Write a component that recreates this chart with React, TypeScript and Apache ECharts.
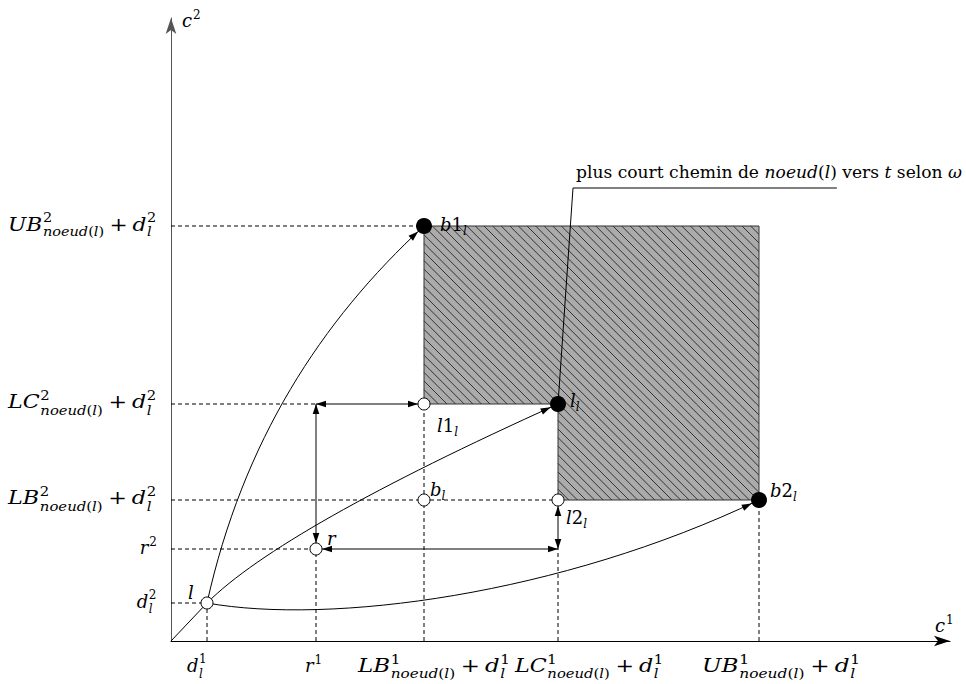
import React, { useEffect, useRef } from 'react';
import * as echarts from 'echarts';

// ---------------- data (diagram units on c1 / c2) ----------------
const c1Max = 779;
const c2Max = 623;
// d_l^1, r^1, LB^1+d^1, LC^1+d^1, UB^1+d^1
const c1Keys = [36, 145, 253, 387, 588];
// d_l^2, r^2, LB^2+d^2, LC^2+d^2, UB^2+d^2
const c2Keys = [38, 92, 141, 237, 415];
const xTickLabels = ['d^1_l', 'r^1', 'LB^1_{noeud(l)} + d^1_l', 'LC^1_{noeud(l)} + d^1_l', 'UB^1_{noeud(l)} + d^1_l'];
const yTickLabels = ['d^2_l', 'r^2', 'LB^2_{noeud(l)} + d^2_l', 'LC^2_{noeud(l)} + d^2_l', 'UB^2_{noeud(l)} + d^2_l'];
const axisNames = ['c^1', 'c^2'];

const pointNames = ['l', 'r', 'b_l', 'l1_l', 'l2_l', 'b1_l', 'l_l', 'b2_l'];
const pointC1 = [36, 145, 253, 253, 387, 253, 387, 588];
const pointC2 = [38, 92, 141, 237, 141, 415, 237, 141];
const pointFilled = [false, false, false, false, false, true, true, true];

// curves leaving l : start, control 1, control 2, end
const curveToB1 = [[36, 38], [72, 200], [150, 320], [253, 415]];
const curveToLl = [[36, 38], [86, 88], [203, 154], [387, 237]];
const curveToB2 = [[36, 38], [159, 16], [389, 46], [588, 141]];

// annotation
const annotationParts: [string, boolean][] = [
  ['plus court chemin de ', false], ['noeud', true], ['(', false], ['l', true], [')', false],
  [' vers ', false], ['t', true], [' selon ', false], ['ω', true],
];
const annotationUnderlinedParts = 5;
const leader = [[402, 453], [387, 237]];

// ---------------- layout (pixels) ----------------
const xLabelLeft = [-20, -11, -66, -43, -57];
const xLabelFit: (number | undefined)[] = [undefined, undefined, 154, 150, 160];
const pointLabelOffset = [[-19, -4], [11, -4], [6, -4], [13, 28], [8, 24], [16, 5], [12, 3], [11, -3]];

const FONT = 'DejaVu Serif';
const MAIN = 18;
const SCRIPT = 12;

let ctx: CanvasRenderingContext2D | null = null;
function measure(text: string, size: number, italic: boolean): number {
  if (!ctx) ctx = document.createElement('canvas').getContext('2d');
  ctx!.font = `${italic ? 'italic ' : ''}${size}px "${FONT}"`;
  return ctx!.measureText(text).width;
}

const isIt = (c: string) => /[A-Za-z\u03c9]/.test(c);
function chunks(str: string): [string, boolean][] {
  const out: [string, boolean][] = [];
  for (const ch of str) {
    const it = isIt(ch);
    if (out.length && out[out.length - 1][1] === it) out[out.length - 1][0] += ch;
    else out.push([ch, it]);
  }
  return out;
}
const widthOf = (str: string, size: number) => chunks(str).reduce((w, [t, it]) => w + measure(t, size, it), 0);

type Run = { text: string; italic: boolean; size: number; dx: number; dy: number; stack?: [string, string]; lh?: number };

function layoutTex(src: string, main: number, script: number) {
  const runs: Run[] = [];
  let x = 0;
  let i = 0;
  const pushText = (str: string, size: number, dy: number, xStart: number) => {
    let w = 0;
    for (const [t, it] of chunks(str)) {
      runs.push({ text: t, italic: it, size, dx: xStart + w, dy });
      w += measure(t, size, it);
    }
    return w;
  };
  while (i < src.length) {
    const c = src[i];
    if (c === '^' || c === '_') {
      let sup = '';
      let sub = '';
      while (i < src.length && (src[i] === '^' || src[i] === '_')) {
        const k = src[i++];
        let arg: string;
        if (src[i] === '{') {
          const j = src.indexOf('}', i);
          arg = src.slice(i + 1, j);
          i = j + 1;
        } else {
          arg = src[i++];
        }
        if (k === '^') sup = arg; else sub = arg;
      }
      if (sup && sub) {
        const supC = -0.465 * main;
        const subC = 0.34 * main;
        runs.push({ text: '', italic: false, size: script, dx: x + 0.5, dy: (supC + subC) / 2, stack: [sup, sub], lh: subC - supC });
        x += Math.max(widthOf(sup, script) + 1, widthOf(sub, script)) + 1;
      } else if (sup) {
        x += pushText(sup, script, -0.42 * main, x + 1) + 2;
      } else {
        x += pushText(sub, script, 0.24 * main, x) + 1;
      }
    } else if (c === '+') {
      x += 0.22 * main;
      x += pushText('+', main, 0, x);
      x += 0.22 * main;
      i++;
    } else if (c === ' ') {
      i++;
    } else {
      let j = i;
      while (j < src.length && !'^_+ '.includes(src[j])) j++;
      x += pushText(src.slice(i, j), main, 0, x);
      i = j;
    }
  }
  return { runs, width: x };
}

function textEl(r: Run) {
  if (r.stack) {
    const rich = (s: string) => chunks(s).map(([t, it]) => `{${it ? 'i' : 'u'}|${t}}`).join('');
    const base = { fontSize: r.size, fontFamily: FONT, fill: '#000', lineHeight: r.lh };
    return {
      type: 'text',
      x: r.dx,
      y: r.dy - 0.35 * r.size,
      style: {
        text: `${rich(r.stack[0])}\n${rich(r.stack[1])}`,
        fontSize: r.size,
        fontFamily: FONT,
        lineHeight: r.lh,
        fill: '#000',
        align: 'left',
        verticalAlign: 'middle',
        rich: { i: { ...base, fontStyle: 'italic' }, u: { ...base, fontStyle: 'normal' } },
      },
    };
  }
  return {
    type: 'text',
    x: r.dx,
    y: r.dy - 0.35 * r.size,
    style: {
      text: r.text,
      fontSize: r.size,
      fontFamily: FONT,
      fontStyle: r.italic ? 'italic' : 'normal',
      fill: '#000',
      align: 'left',
      verticalAlign: 'middle',
    },
  };
}

function texGroup(src: string, x: number, y: number, align: 'left' | 'right', fit?: number) {
  const { runs, width } = layoutTex(src, MAIN, SCRIPT);
  const s = fit ? fit / width : 1;
  const left = align === 'right' ? x - width * s : x;
  return { type: 'group', x: left, y, scaleX: s, children: runs.map(textEl) };
}

function annotationGroup(x: number, y: number) {
  const size = 16.5;
  const runs: Run[] = [];
  let w = 0;
  let wUnder = 0;
  annotationParts.forEach(([t, it], k) => {
    runs.push({ text: t, italic: it, size, dx: w, dy: 0 });
    w += measure(t, size, it);
    if (k === annotationUnderlinedParts - 1) wUnder = w;
  });
  const s = 386 / w;
  return {
    type: 'group',
    children: [
      { type: 'group', x: x + 3, y: y - 10, scaleX: s, children: runs.map(textEl) },
      { type: 'line', shape: { x1: x, y1: y, x2: x + 3 + wUnder * s, y2: y }, style: { stroke: '#000', lineWidth: 1 } },
    ],
  };
}

type LabelItem = { c1: number; c2: number; tex: string; dx: number; dy: number; align: 'left' | 'right'; fit?: number; annot?: boolean };
const labelItems: LabelItem[] = [
  ...yTickLabels.map((t, k) => ({ c1: 0, c2: c2Keys[k], tex: t, dx: -13, dy: 4.5, align: 'right' as const, fit: k >= 2 ? 150 : undefined })),
  ...xTickLabels.map((t, k) => ({ c1: c1Keys[k], c2: 0, tex: t, dx: xLabelLeft[k], dy: 31, align: 'left' as const, fit: xLabelFit[k] })),
  ...pointNames.map((t, i) => ({ c1: pointC1[i], c2: pointC2[i], tex: t, dx: pointLabelOffset[i][0], dy: pointLabelOffset[i][1], align: 'left' as const })),
  { c1: c1Max, c2: 0, tex: axisNames[0], dx: -15, dy: -9, align: 'left' },
  { c1: 0, c2: c2Max, tex: axisNames[1], dx: 11, dy: 9, align: 'left' },
  { c1: leader[0][0], c2: leader[0][1], tex: '', dx: 0, dy: 0, align: 'left', annot: true },
];

function head(tip: number[], ux: number, uy: number, L = 10, W = 3.3) {
  const bx = tip[0] - ux * L;
  const by = tip[1] - uy * L;
  return {
    type: 'polygon',
    shape: { points: [[tip[0], tip[1]], [bx - uy * W, by + ux * W], [bx + uy * W, by - ux * W]] },
    style: { fill: '#000' },
  };
}

export default function App() {
  const ref = useRef<HTMLDivElement>(null);
  useEffect(() => {
    const chart = echarts.init(ref.current!, null, { renderer: 'svg' });

    const hGuides = [[4, 2], [3, 1], [2, 3], [1, 1], [0, 0]]; // [c2 key, c1 key reached]
    const vGuides = [[0, 0], [1, 1], [2, 3], [3, 1], [4, 2]]; // [c1 key, c2 key reached]
    const dashed = [
      ...hGuides.map(([yi, xi]) => [0, c2Keys[yi], c1Keys[xi], c2Keys[yi]]),
      ...vGuides.map(([xi, yi]) => [c1Keys[xi], 0, c1Keys[xi], c2Keys[yi]]),
    ];
    const distArrows = [
      [c1Keys[1], c2Keys[3], c1Keys[2], c2Keys[3], 0, 6],
      [c1Keys[1], c2Keys[3], c1Keys[1], c2Keys[1], 0, 6],
      [c1Keys[3], c2Keys[1], c1Keys[1], c2Keys[1], 0, 6],
      [c1Keys[3], c2Keys[1], c1Keys[3], c2Keys[2], 0, 6],
    ];
    const solid = [
      [0, 0, pointC1[0], pointC2[0]],
      [leader[0][0], leader[0][1], leader[1][0], leader[1][1]],
    ];
    const curves = [curveToB1, curveToLl, curveToB2].map((c) => [...c.flat(), 8]);

    const option: any = {
      animation: false,
      backgroundColor: '#fff',
      grid: { left: 171, top: 18, width: c1Max, height: c2Max },
      xAxis: {
        type: 'value', min: 0, max: c1Max,
        axisLine: { show: true, onZero: false, lineStyle: { color: '#000', width: 1 }, symbol: ['none', 'arrow'], symbolSize: [8, 16] },
        axisTick: { show: false }, axisLabel: { show: false }, splitLine: { show: false },
      },
      yAxis: {
        type: 'value', min: 0, max: c2Max,
        axisLine: { show: true, onZero: false, lineStyle: { color: '#555', width: 1 }, symbol: ['none', 'arrow'], symbolSize: [8, 16] },
        axisTick: { show: false }, axisLabel: { show: false }, splitLine: { show: false },
      },
      series: [
        {
          type: 'custom', name: 'region', z: 1, silent: true, clip: false,
          encode: { x: [0, 1, 2], y: [3, 4, 5] },
          data: [[c1Keys[2], c1Keys[3], c1Keys[4], c2Keys[2], c2Keys[3], c2Keys[4]]],
          renderItem: (params: any, api: any) => {
            const [lb1, lc1, ub1, lb2, lc2, ub2] = [0, 1, 2, 3, 4, 5].map((i) => api.value(i));
            const P = (a: number, b: number) => api.coord([a, b]);
            const poly = [P(lb1, ub2), P(ub1, ub2), P(ub1, lb2), P(lc1, lb2), P(lc1, lc2), P(lb1, lc2)];
            const rects = [[P(lb1, ub2), P(ub1, lc2)], [P(lc1, lc2), P(ub1, lb2)]];
            const lines: any[] = [];
            const s = 8.6;
            for (const [tl, br] of rects) {
              const X0 = tl[0], Y0 = tl[1], X1 = br[0], Y1 = br[1];
              const nMin = Math.ceil((X0 - Y1) / s);
              const nMax = Math.floor((X1 - Y0) / s);
              for (let n = nMin; n <= nMax; n++) {
                const k = n * s;
                const ya = Math.max(Y0, X0 - k);
                const yb = Math.min(Y1, X1 - k);
                if (yb > ya) {
                  lines.push({ type: 'line', shape: { x1: ya + k, y1: ya, x2: yb + k, y2: yb }, style: { stroke: '#333', lineWidth: 1 } });
                }
              }
            }
            return {
              type: 'group',
              children: [
                { type: 'polygon', shape: { points: poly }, style: { fill: '#ababab' } },
                ...lines,
                { type: 'polygon', shape: { points: poly }, style: { fill: 'none', stroke: '#333', lineWidth: 1 } },
              ],
            };
          },
        },
        {
          type: 'custom', name: 'guides', z: 2, silent: true, clip: false,
          encode: { x: [0, 2], y: [1, 3] },
          data: dashed,
          renderItem: (params: any, api: any) => {
            const a = api.coord([api.value(0), api.value(1)]);
            const b = api.coord([api.value(2), api.value(3)]);
            return { type: 'line', shape: { x1: a[0], y1: a[1], x2: b[0], y2: b[1] }, style: { stroke: '#000', lineWidth: 1, lineDash: [4, 3] } };
          },
        },
        {
          type: 'custom', name: 'solid', z: 3, silent: true, clip: false,
          encode: { x: [0, 2], y: [1, 3] },
          data: solid,
          renderItem: (params: any, api: any) => {
            const a = api.coord([api.value(0), api.value(1)]);
            const b = api.coord([api.value(2), api.value(3)]);
            return { type: 'line', shape: { x1: a[0], y1: a[1], x2: b[0], y2: b[1] }, style: { stroke: '#000', lineWidth: 1 } };
          },
        },
        {
          type: 'custom', name: 'distances', z: 3, silent: true, clip: false,
          encode: { x: [0, 2], y: [1, 3] },
          data: distArrows,
          renderItem: (params: any, api: any) => {
            const a = api.coord([api.value(0), api.value(1)]);
            const b = api.coord([api.value(2), api.value(3)]);
            const dx = b[0] - a[0], dy = b[1] - a[1];
            const len = Math.hypot(dx, dy);
            const ux = dx / len, uy = dy / len;
            const r1 = api.value(4), r2 = api.value(5);
            const t1 = [a[0] + ux * r1, a[1] + uy * r1];
            const t2 = [b[0] - ux * r2, b[1] - uy * r2];
            return {
              type: 'group',
              children: [
                { type: 'line', shape: { x1: t1[0], y1: t1[1], x2: t2[0], y2: t2[1] }, style: { stroke: '#000', lineWidth: 1 } },
                head(t2, ux, uy),
                head(t1, -ux, -uy),
              ],
            };
          },
        },
        {
          type: 'custom', name: 'curves', z: 3, silent: true, clip: false,
          encode: { x: [0, 2, 4, 6], y: [1, 3, 5, 7] },
          data: curves,
          renderItem: (params: any, api: any) => {
            const p = [0, 1, 2, 3].map((i) => api.coord([api.value(2 * i), api.value(2 * i + 1)]));
            const r = api.value(8);
            const dx = p[3][0] - p[2][0], dy = p[3][1] - p[2][1];
            const len = Math.hypot(dx, dy);
            const ux = dx / len, uy = dy / len;
            const tip = [p[3][0] - ux * r, p[3][1] - uy * r];
            return {
              type: 'group',
              children: [
                {
                  type: 'bezierCurve',
                  shape: { x1: p[0][0], y1: p[0][1], cpx1: p[1][0], cpy1: p[1][1], cpx2: p[2][0], cpy2: p[2][1], x2: p[3][0], y2: p[3][1] },
                  style: { stroke: '#000', lineWidth: 1, fill: 'none' },
                },
                head(tip, ux, uy),
              ],
            };
          },
        },
        {
          type: 'scatter', name: 'open', z: 5, silent: true,
          data: pointC1.map((x, i) => [x, pointC2[i]]).filter((_, i) => !pointFilled[i]),
          symbol: 'circle', symbolSize: 12,
          itemStyle: { color: '#fff', borderColor: '#000', borderWidth: 1, opacity: 1 },
          emphasis: { disabled: true },
        },
        {
          type: 'scatter', name: 'filled', z: 5, silent: true,
          data: pointC1.map((x, i) => [x, pointC2[i]]).filter((_, i) => pointFilled[i]),
          symbol: 'circle', symbolSize: 16,
          itemStyle: { color: '#000', opacity: 1 },
          emphasis: { disabled: true },
        },
        {
          type: 'custom', name: 'labels', z: 6, silent: true, clip: false,
          data: labelItems.map((it) => [it.c1, it.c2]),
          renderItem: (params: any, api: any) => {
            const it = labelItems[params.dataIndex];
            const p = api.coord([api.value(0), api.value(1)]);
            if (it.annot) return annotationGroup(p[0], p[1]);
            return texGroup(it.tex, p[0] + it.dx, p[1] + it.dy, it.align, it.fit);
          },
        },
      ],
    };
    chart.setOption(option);
    return () => chart.dispose();
  }, []);
  return <div ref={ref} style={{ position: 'absolute', left: 0, top: 0, width: 966, height: 684, background: '#fff' }} />;
}
